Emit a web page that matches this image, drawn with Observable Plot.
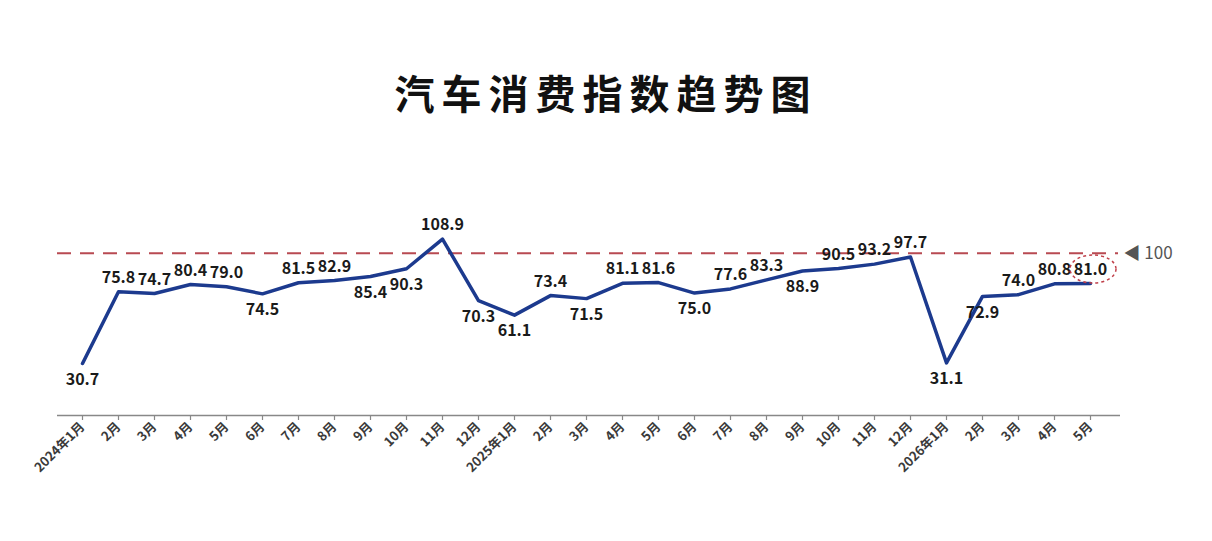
<!DOCTYPE html>
<html>
<head>
<meta charset="utf-8">
<script src="https://cdn.jsdelivr.net/npm/d3@7"></script>
<script src="https://cdn.jsdelivr.net/npm/@observablehq/plot@0.6"></script>
<style>
  html, body { margin: 0; padding: 0; background: #fff; }
  #title { height: 58px; padding-top: 72px; text-align: center; font-family: "Noto Sans CJK SC", sans-serif; font-weight: 700; font-size: 40px; line-height: 40px; letter-spacing: 7px; color: #111; }
  #chart { width: 1212px; }
</style>
</head>
<body>
<div id="title">汽车消费指数趋势图</div>
<div id="chart"></div>
<script>
const months = ["2024年1月","2月","3月","4月","5月","6月","7月","8月","9月","10月","11月","12月",
  "2025年1月","2月","3月","4月","5月","6月","7月","8月","9月","10月","11月","12月",
  "2026年1月","2月","3月","4月","5月"];
const values = [30.7, 75.8, 74.7, 80.4, 79.0, 74.5, 81.5, 82.9, 85.4, 90.3, 108.9, 70.3,
  61.1, 73.4, 71.5, 81.1, 81.6, 75.0, 77.6, 83.3, 88.9, 90.5, 93.2, 97.7,
  31.1, 72.9, 74.0, 80.8, 81.0];
const labelSide = ["below","above","above","above","above","below","above","above","below","below","above","below",
  "below","above","below","above","above","below","above","above","below","above","above","above",
  "below","below","above","above","above"];
const reference = 100;
const yDomain = [-2, 120];

const data = values.map((v, i) => ({i, v, side: labelSide[i], label: v.toFixed(1)}));
const last = data.length - 1;

const plot = Plot.plot({
  width: 1212,
  height: 411,
  marginLeft: 79,
  marginRight: 120,
  marginTop: 91,
  marginBottom: 126,
  style: {fontFamily: "'Noto Sans CJK SC', sans-serif", background: "transparent"},
  x: {type: "point", domain: d3.range(values.length), padding: 0, label: null},
  y: {domain: yDomain, axis: null},
  marks: [
    Plot.ruleY([yDomain[0]], {stroke: "#888", strokeWidth: 1.5, insetLeft: -22, insetRight: -28}),
    Plot.axisX({tickRotate: -45, tickFormat: i => months[i], tickSize: 5, tickPadding: 4, label: null,
      fontSize: 13, fontWeight: 600, fill: "#3a3a3a", stroke: "#888", strokeWidth: 1.2}),
    Plot.ruleY([reference], {stroke: "#b84a52", strokeWidth: 2, strokeDasharray: "14,9", insetLeft: -22, insetRight: -26}),
    Plot.text([reference], {x: () => last, y: d => d, text: () => "◀ 100", dx: 33, textAnchor: "start",
      fontSize: 17, fill: "#555"}),
    Plot.lineY(data, {x: "i", y: "v", stroke: "#1c3a8e", strokeWidth: 3.5, strokeLinejoin: "round"}),
    Plot.text(data.filter(d => d.side === "above"), {x: "i", y: "v", text: "label", dy: -14,
      fontSize: 16, fontWeight: "bold", fill: "#1a1a1a"}),
    Plot.text(data.filter(d => d.side === "below"), {x: "i", y: "v", text: "label", dy: 16,
      fontSize: 16, fontWeight: "bold", fill: "#1a1a1a"}),
    (index, scales) => {
      const g = d3.create("svg:ellipse")
        .attr("cx", scales.x(last) + 3)
        .attr("cy", scales.y(values[last]) - 14)
        .attr("rx", 23).attr("ry", 14)
        .attr("fill", "none").attr("stroke", "#c0404a").attr("stroke-width", 1.5)
        .attr("stroke-dasharray", "3,3");
      return g.node();
    }
  ]
});
document.getElementById("chart").appendChild(plot);
</script>
</body>
</html>
